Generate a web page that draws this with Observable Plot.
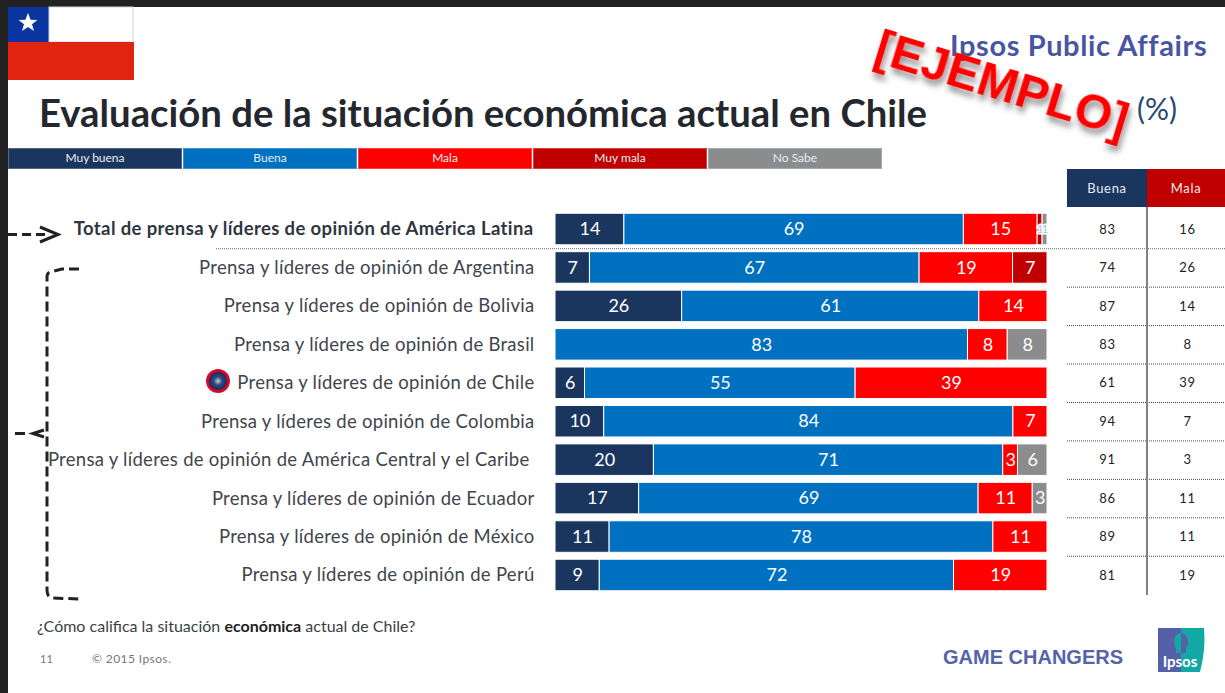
<!DOCTYPE html>
<html><head><meta charset="utf-8">
<script src="https://cdn.jsdelivr.net/npm/d3@7"></script>
<script src="https://cdn.jsdelivr.net/npm/@observablehq/plot@0.6"></script>
<style>
html,body{margin:0;padding:0;background:#fff;overflow:hidden}
#page{position:relative;width:1225px;height:693px;font-family:Lato,sans-serif;overflow:hidden}
#page>*{position:absolute}
.seg{position:absolute;top:0;height:21px;line-height:19px;text-align:center;color:#e8eef5;font-size:12px;box-shadow:inset 0 0 0 1px rgba(255,255,255,.25)}
.hd{height:38px;line-height:38px;text-align:center;color:#e8eef5;font-size:13px;letter-spacing:.7px;top:169px}
.lab-total text{letter-spacing:.37px}
.lab-row text{letter-spacing:.28px}
.val text{letter-spacing:.6px}
</style></head><body>
<div id="page"></div>
<script>
const categories = ["Muy buena","Buena","Mala","Muy mala","No Sabe"];
const colors = ["#1a355e","#0070c0","#ff0000","#c00000","#8a8c8e"];
const rows = [
 "Total de prensa y líderes de opinión de América Latina",
 "Prensa y líderes de opinión de Argentina",
 "Prensa y líderes de opinión de Bolivia",
 "Prensa y líderes de opinión de Brasil",
 "Prensa y líderes de opinión de Chile",
 "Prensa y líderes de opinión de Colombia",
 "Prensa y líderes de opinión de América Central y el Caribe\u00a0",
 "Prensa y líderes de opinión de Ecuador",
 "Prensa y líderes de opinión de México",
 "Prensa y líderes de opinión de Perú"];
const muyBuena = [14,7,26,0,6,10,20,17,11,9];
const buena    = [69,67,61,83,55,84,71,69,78,72];
const mala     = [15,19,14,8,39,7,3,11,11,19];
const muyMala  = [1,7,0,0,0,0,0,0,0,0];
const noSabe   = [1,0,0,8,0,0,6,3,0,0];
const totalBuena = [83,74,87,83,61,94,91,86,89,81];
const totalMala  = [16,26,14,8,39,7,3,11,11,19];
const series = [muyBuena,buena,mala,muyMala,noSabe];

const long = categories.flatMap((cat,c)=>rows.map((row,r)=>({row,cat,value:series[c][r]}))).filter(d=>d.value>0);
const table = rows.map((row,r)=>({row,b:totalBuena[r],m:totalMala[r]}));
const stack = o => Plot.stackX({x:"value",y:"row",z:"cat",offset:"normalize",order:categories,...o});

const chart = Plot.plot({
  width:1225,height:693,
  marginLeft:555,marginRight:178,marginTop:209.8,marginBottom:98.8,
  style:{background:"transparent",fontFamily:"Lato,sans-serif"},
  x:{domain:[0,1],axis:null},
  y:{domain:rows,axis:null,paddingInner:0.18,paddingOuter:0.09,round:false},
  color:{domain:categories,range:colors},
  marks:[
    Plot.ruleY(rows.slice(0,1),{y:d=>d,dy:19.2,stroke:"#666",strokeWidth:1,strokeDasharray:"1,1",insetLeft:-339,insetRight:-178}),
    Plot.ruleY(rows.slice(1,9),{y:d=>d,dy:19.2,stroke:"#444",strokeWidth:1,strokeDasharray:"1,1",insetLeft:512,insetRight:-178}),
    Plot.barX(long,stack({fill:"cat",stroke:"#fff",strokeWidth:1})),
    Plot.text(long,stack({text:d=>d.value>1?d.value:null,fill:"#fff",fontSize:18})),
    Plot.text(long,stack({text:d=>d.value===1?d.value:null,fill:"#a9bfd8",stroke:"#fff",strokeWidth:3,fontSize:12})),
    Plot.text(rows.slice(0,1),{y:d=>d,text:d=>d,frameAnchor:"left",textAnchor:"end",dx:-22,fontSize:18.5,fontWeight:700,fill:"#2f3640",className:"lab-total"}),
    Plot.text(rows.slice(1),{y:d=>d,text:d=>d,frameAnchor:"left",textAnchor:"end",dx:-21,fontSize:18.5,fill:"#3f454d",className:"lab-row"}),
    Plot.text(table,{y:"row",text:"b",frameAnchor:"right",textAnchor:"middle",dx:60,fontSize:13,fill:"#222",className:"val"}),
    Plot.text(table,{y:"row",text:"m",frameAnchor:"right",textAnchor:"middle",dx:140,fontSize:13,fill:"#222",className:"val"})
  ]
});
const page = document.getElementById("page");
chart.style.left="0";chart.style.top="0";
page.appendChild(chart);

page.insertAdjacentHTML("beforeend",`
<div style="left:0;top:0;width:1225px;height:7px;background:#222"></div>
<div style="left:0;top:0;width:8px;height:693px;background:#222"></div>
<svg style="left:0;top:0" width="1225" height="693" viewBox="0 0 1225 693">
  <rect x="8" y="7" width="41" height="35" fill="#0a35a0"/>
  <rect x="49" y="7" width="84" height="35" fill="#fff" stroke="#cdd3e0"/>
  <rect x="8" y="42" width="126" height="38" fill="#e02410"/>
  <path transform="translate(28,23)" d="M0,-10 L2.6,-3.2 9.5,-3.1 4,1.2 6,8.1 0,4 -6,8.1 -4,1.2 -9.5,-3.1 -2.6,-3.2Z" fill="#fff"/>
  <g fill="none" stroke="#222" stroke-width="3">
    <path d="M8,234.500 H48" stroke-dasharray="9,5"/>
    <path d="M40,227 L58,234.500 L40,242"/>
    <path d="M79,269 H62 L50,272 Q47,273 47,277 V590 Q47,597 52,598 L80,599" stroke-dasharray="10,5"/>
    <path d="M15,433.500 H30" stroke-dasharray="10,5"/>
    <path d="M44,430 L33,433.500 L44,437"/>
  </g>
  <line x1="1147" x2="1147" y1="207" y2="595" stroke="#808080" stroke-width="2"/>
  <defs><radialGradient id="b"><stop offset="0" stop-color="#c8d0dc"/><stop offset=".35" stop-color="#2f4a80"/><stop offset=".7" stop-color="#1a2f60"/><stop offset=".8" stop-color="#e00020"/><stop offset="1" stop-color="#d01030"/></radialGradient></defs>
  <circle cx="218" cy="381" r="12" fill="url(#b)"/>
  <path d="M1158,628 H1204 Q1206,650 1200,672 H1158Z" fill="#12a8a4"/>
  <path d="M1158,628 H1181 V672 H1158Z" fill="#5560a8"/>
  <path d="M1181,633 q-7,1 -7,9 q0,4 2,6 v5 h5Z" fill="#12a8a4"/>
  <path d="M1181,633 q7,1 7,9 q0,4 -2,6 v5 h-5Z" fill="#5560a8"/>
  <text x="1180" y="667" text-anchor="middle" fill="#fff" font-size="15" font-weight="700" font-family="Lato">Ipsos</text>
</svg>
<div style="left:39px;top:89px;font-size:38.3px;font-weight:700;color:#24282e;white-space:nowrap;line-height:46px">Evaluación de la situación económica actual en Chile</div>
<div style="left:1137px;top:91px;font-size:30px;color:#2a4a6e;line-height:34px">(%)</div>
<div style="left:950px;top:27px;font-size:29px;font-weight:700;color:#4a55a2;white-space:nowrap;line-height:36px;letter-spacing:.6px">Ipsos Public Affairs</div>
<div style="left:8px;top:148px;width:875px;height:21px" id="leg"></div>
<div class="hd" style="left:1067px;width:80px;background:#1a355e">Buena</div>
<div class="hd" style="left:1147px;width:78px;background:#c00000">Mala</div>
<div style="left:37px;top:615px;font-size:16px;color:#3a3f46;white-space:nowrap;line-height:22px">¿Cómo califica la situación <b style="color:#222">económica</b> actual de Chile?</div>
<div style="left:40px;top:652px;font-size:11px;color:#777;line-height:14px">11</div>
<div style="left:92px;top:652px;font-size:12px;letter-spacing:.4px;color:#777;line-height:14px;white-space:nowrap">© 2015 Ipsos.</div>
<div style="left:943px;top:645px;font-size:20px;font-weight:700;color:#5563a8;font-family:'Liberation Sans';white-space:nowrap;line-height:24px">GAME CHANGERS</div>
<svg style="left:0;top:0" width="1225" height="693" viewBox="0 0 1225 693">
  <defs><filter id="s" x="-10%" y="-20%" width="120%" height="150%"><feDropShadow dx="3" dy="5" stdDeviation="3" flood-color="#000" flood-opacity=".45"/></filter></defs>
  <text x="1001" y="87" text-anchor="middle" dominant-baseline="middle" transform="rotate(17 1001 87)" fill="#ff0000" font-size="48" font-weight="700" font-family="Liberation Sans" filter="url(#s)">[EJEMPLO]</text>
</svg>
`);
const leg = document.getElementById("leg");
categories.forEach((c,i)=>{
  const d=document.createElement("div");d.className="seg";d.textContent=c;
  d.style.left=(i*175)+"px";d.style.width="174px";d.style.background=colors[i];leg.appendChild(d);
});
</script>
</body></html>
